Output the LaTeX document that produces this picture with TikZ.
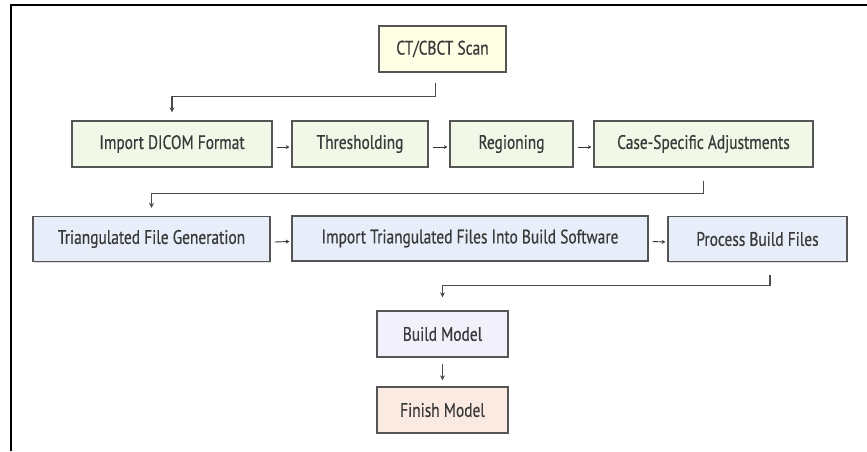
\documentclass[tikz,border=0pt]{standalone}
\usepackage{fontspec}
\setmainfont{PT Sans}[FakeStretch=0.79, FakeBold=0.5]
\usepackage{tikz}
\usetikzlibrary{arrows.meta, positioning, calc, shadows}

\definecolor{scanfill}{HTML}{FFFFE6}
\definecolor{segfill}{HTML}{F1F8E7}
\definecolor{meshfill}{HTML}{E7EEF9}
\definecolor{buildfill}{HTML}{F2F0FB}
\definecolor{finishfill}{HTML}{FBEAE2}
\definecolor{boxline}{HTML}{555555}
\definecolor{txt}{HTML}{3A3A3A}

\begin{document}
\begin{tikzpicture}[x=1pt, y=-1pt,
    stage/.style={draw=boxline, line width=1.3pt, text=txt, inner sep=0pt,
        font=\fontsize{19.5}{22}\selectfont, minimum height=46pt,
        drop shadow={shadow xshift=0.8pt, shadow yshift=-1.2pt, opacity=0.25}},
    link/.style={draw=black!70, line width=1.2pt, -{Stealth[length=5pt,width=5pt]}},
    nextstep/.style={draw=black!80, line width=0.9pt, -{Stealth[length=3.5pt,width=4pt]}}]
    \useasboundingbox (0,0) rectangle (867,451);
    \draw[line width=2pt] (11,451) -- (11,5) -- (867,5);

    % scan and segmentation
    \node[stage, fill=scanfill, minimum width=127pt] (scan) at (442.5,49) {CT/CBCT Scan};
    \node[stage, fill=segfill, minimum width=200pt] (dicom) at (172,144) {Import DICOM Format};
    \node[stage, fill=segfill, minimum width=136pt] (thresh) at (360,144) {Thresholding};
    \node[stage, fill=segfill, minimum width=123pt] (region) at (511.5,144) {Regioning};
    \node[stage, fill=segfill, minimum width=219pt] (adjust) at (703.5,144) {Case-Specific Adjustments};

    % triangulated files
    \node[stage, fill=meshfill, minimum width=237pt, minimum height=45pt] (trigen) at (151.5,239) {Triangulated File Generation};
    \node[stage, fill=meshfill, minimum width=356pt, minimum height=45pt] (import) at (470,238.5) {Import Triangulated Files Into Build Software};
    \node[stage, fill=meshfill, minimum width=179pt, minimum height=45pt] (process) at (757.5,239) {Process Build Files};

    % printing
    \node[stage, fill=buildfill, minimum width=131pt] (build) at (442.5,334) {Build Model};
    \node[stage, fill=finishfill, minimum width=131pt] (finish) at (442.5,410) {Finish Model};

    \draw[link] ([shift={(-7,10)}]scan.south) -- ++(0,14) -| ([yshift=8pt]dicom.north);
    \draw[link] ([yshift=-13pt]adjust.south) -- ++(0,13) -| ([yshift=8pt]trigen.north);
    \draw[link] ([shift={(12.5,13)}]process.south) -- ++(0,10) -| ([yshift=13pt]build.north);
    \draw[link] ([yshift=-6pt]build.south) -- ([yshift=6pt]finish.north);
    \foreach \a/\b in {dicom/thresh, thresh/region, region/adjust, trigen/import, import/process}
        \draw[nextstep] ([shift={(4,3)}]\a.east) -- ([shift={(-2,3)}]\b.west);
\end{tikzpicture}
\end{document}
